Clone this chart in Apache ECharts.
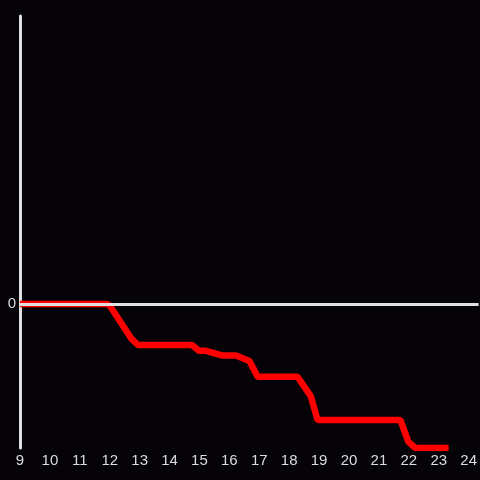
<!DOCTYPE html>
<html>
<head>
<meta charset="utf-8">
<script src="https://cdn.jsdelivr.net/npm/echarts@6/dist/echarts.min.js"></script>
<style>
  html, body { margin: 0; padding: 0; background: #050307; }
  #chart { width: 480px; height: 480px; }
</style>
</head>
<body>
<div id="chart"></div>
<script>
// hours of the day
const hours = [9, 11.9, 12.0, 12.72, 12.95, 14.75, 14.98, 15.22, 15.78, 16.22, 16.67, 16.95, 18.28, 18.72, 18.95, 21.72, 21.98, 22.22, 23.33]
// values
const values = [0, 0, -0.01, -0.24, -0.285, -0.285, -0.325, -0.325, -0.358, -0.358, -0.396, -0.506, -0.506, -0.64, -0.806, -0.806, -0.956, -1, -1]
const zeroLine = [0]

const chart = echarts.init(document.getElementById('chart'))

const option = {
  backgroundColor: '#050307',
  animation: false,
  grid: { left: 20, right: 0, top: 16, bottom: 32 },
  xAxis: {
    type: 'value',
    min: 9,
    max: 24.333,
    interval: 1,
    axisLine: { show: false },
    axisTick: { show: false },
    splitLine: { show: false },
    axisLabel: {
      color: '#dcdcdc',
      fontSize: 15,
      margin: 5,
      showMaxLabel: false
    }
  },
  yAxis: {
    type: 'value',
    min: -1,
    max: 2,
    interval: 1,
    axisLine: { show: true, onZero: false, lineStyle: { color: '#e0e0e0', width: 3 } },
    axisTick: { show: false },
    splitLine: { show: false },
    axisLabel: {
      color: '#dcdcdc',
      fontSize: 15,
      margin: 4,
      formatter: (v) => (v === 0 ? '0' : '')
    }
  },
  series: [
    {
      type: 'line',
      data: hours.map((h, i) => [h, values[i]]),
      symbol: 'none',
      lineStyle: { color: '#ff0000', width: 6.5 },
      z: 3,
      markLine: {
        silent: true,
        symbol: 'none',
        label: { show: false },
        lineStyle: { color: '#e0e0e0', width: 3, type: 'solid' },
        data: zeroLine.map(v => ({ yAxis: v }))
      }
    }
  ]
}

chart.setOption(option)
</script>
</body>
</html>
